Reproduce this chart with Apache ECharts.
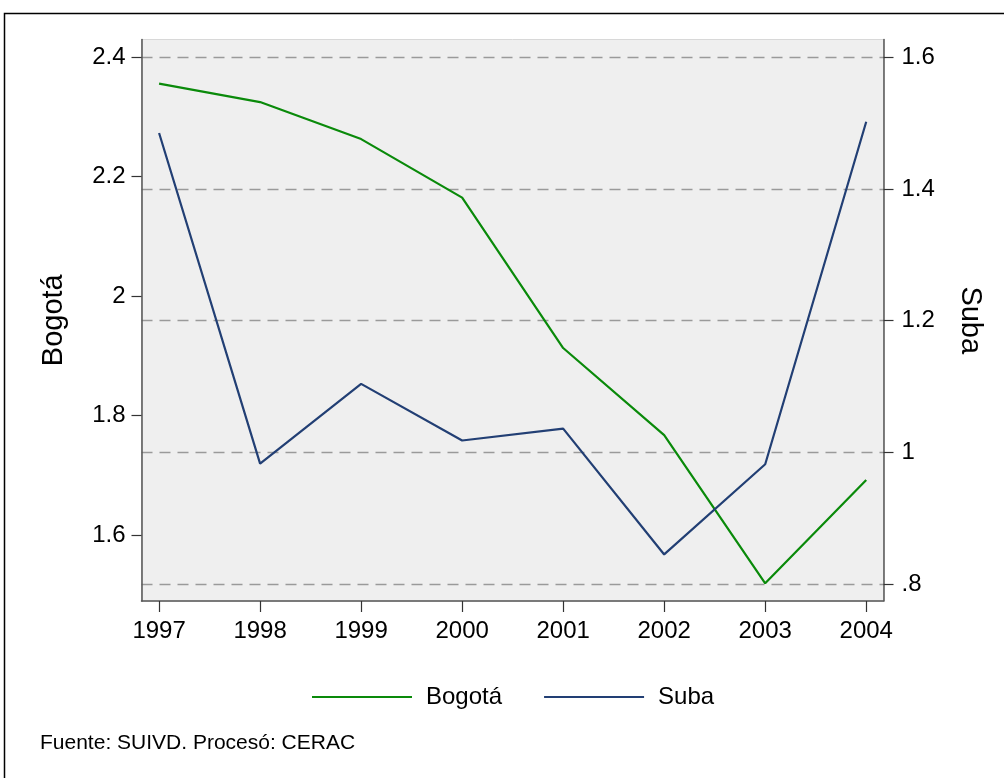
<!DOCTYPE html>
<html>
<head>
<meta charset="utf-8">
<script src="https://cdn.jsdelivr.net/npm/echarts@6/dist/echarts.min.js"></script>
<style>html,body{margin:0;padding:0;background:#fff}#c{width:1004px;height:778px}</style>
</head>
<body>
<div id="c"></div>
<script>
const years = [1997, 1998, 1999, 2000, 2001, 2002, 2003, 2004];
const bogota = [2.356, 2.325, 2.263, 2.165, 1.913, 1.767, 1.519, 1.692];
const suba = [1.485, 0.983, 1.104, 1.018, 1.036, 0.845, 0.982, 1.502];
const leftTicks = [1.6, 1.8, 2.0, 2.2, 2.4];
const rightTicks = [0.8, 1.0, 1.2, 1.4, 1.6];
const seriesNames = ['Bogotá', 'Suba'];
const sourceNote = 'Fuente: SUIVD. Procesó: CERAC';

const FONT = "'Liberation Sans', Arial, sans-serif";
const fmtLeft = v => (Math.abs(v - 2) < 1e-9 ? '2' : v.toFixed(1));
const fmtRight = v => {
  if (Math.abs(v - 1) < 1e-9) return '1';
  let s = v.toFixed(1);
  return s.startsWith('0') ? s.slice(1) : s;
};

const chart = echarts.init(document.getElementById('c'), null, {renderer: 'canvas'});
chart.setOption({
  animation: false,
  backgroundColor: '#ffffff',
  textStyle: {fontFamily: FONT},
  grid: {
    left: 141.5, right: 120.5, top: 39.5, bottom: 177,
    show: true, backgroundColor: '#efefef', borderColor: '#d8d8d8', borderWidth: 1
  },
  xAxis: {
    type: 'value', min: 1996.826, max: 2004.171,
    axisLine: {show: true, onZero: false, lineStyle: {color: '#555', width: 1.5}},
    axisTick: {show: true, length: 11, customValues: years, lineStyle: {color: '#333', width: 1.2}},
    axisLabel: {customValues: years, fontSize: 24, color: '#000', margin: 18, fontFamily: FONT,
      formatter: v => String(Math.round(v))},
    splitLine: {show: false}
  },
  yAxis: [
    {
      type: 'value', position: 'left', min: 1.4893, max: 2.4298,
      name: seriesNames[0], nameLocation: 'middle', nameGap: 73, nameRotate: 90,
      nameTextStyle: {fontSize: 29, color: '#000', fontFamily: FONT},
      axisLine: {show: true, lineStyle: {color: '#555', width: 1.5}},
      axisTick: {show: true, length: 10, customValues: leftTicks, lineStyle: {color: '#333', width: 1.2}},
      axisLabel: {customValues: leftTicks, fontSize: 24, color: '#000', margin: 16, fontFamily: FONT,
        formatter: fmtLeft},
      splitLine: {show: false}
    },
    {
      type: 'value', position: 'right', min: 0.7743, max: 1.627,
      name: seriesNames[1], nameLocation: 'middle', nameGap: 72, nameRotate: -90,
      nameTextStyle: {fontSize: 29, color: '#000', fontFamily: FONT},
      axisLine: {show: true, lineStyle: {color: '#555', width: 1.5}},
      axisTick: {show: true, length: 10, customValues: rightTicks, lineStyle: {color: '#333', width: 1.2}},
      axisLabel: {customValues: rightTicks, fontSize: 24, color: '#000', margin: 18, fontFamily: FONT,
        formatter: fmtRight},
      splitLine: {show: true, lineStyle: {color: '#9a9a9a', width: 1.3, type: [11, 7]}}
    }
  ],
  legend: {
    left: 307, top: 680, itemWidth: 100, itemHeight: 2, itemGap: 42, icon: 'rect',
    textStyle: {fontSize: 24, color: '#000', fontFamily: FONT, padding: [0, 0, 0, 9]},
    data: seriesNames
  },
  series: [
    {
      name: seriesNames[0], type: 'line', yAxisIndex: 0, symbol: 'none', z: 3,
      lineStyle: {color: '#0a8a0a', width: 2.2}, itemStyle: {color: '#0a8a0a'},
      data: years.map((y, i) => [y, bogota[i]])
    },
    {
      name: seriesNames[1], type: 'line', yAxisIndex: 1, symbol: 'none', z: 3,
      lineStyle: {color: '#223f74', width: 2.2}, itemStyle: {color: '#223f74'},
      data: years.map((y, i) => [y, suba[i]])
    }
  ],
  graphic: [
    {type: 'rect', shape: {x: 4.5, y: 13.5, width: 1010, height: 800}, silent: true, z: -10,
      style: {fill: 'none', stroke: '#000', lineWidth: 1.5}},
    {type: 'text', left: 40, top: 733, silent: true,
      style: {text: sourceNote, fontSize: 21, fill: '#000', fontFamily: FONT}}
  ]
});
</script>
</body>
</html>
